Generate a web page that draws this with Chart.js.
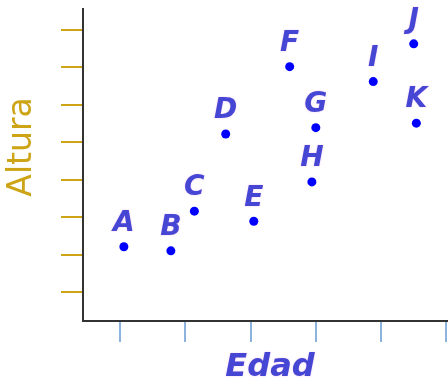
<!DOCTYPE html>
<html>
<head>
<meta charset="utf-8">
<script src="https://cdn.jsdelivr.net/npm/chart.js@4/dist/chart.umd.min.js"></script>
<style>
  html, body { margin: 0; padding: 0; background: #fff; }
  #wrap { width: 448px; height: 387px; }
</style>
</head>
<body>
<div id="wrap"><canvas id="chart"></canvas></div>
<script>
// points A..K: edad (x) vs altura (y), in tick units
const names = ['A', 'B', 'C', 'D', 'E', 'F', 'G', 'H', 'I', 'J', 'K'];
const edad = [1.06, 1.78, 2.14, 2.62, 3.05, 3.60, 4.00, 3.94, 4.88, 5.50, 5.54];
const altura = [2.21, 2.10, 3.16, 5.22, 2.89, 7.02, 5.39, 3.94, 6.62, 7.63, 5.51];
const xTicks = [1, 2, 3, 4, 5, 6];
const yTicks = [1, 2, 3, 4, 5, 6, 7, 8];

const pointColor = '#0000ff';
const letterColor = '#4646d4';
const gold = '#cca415';
const axisColor = '#333';

// letters above each point, plus the two axis captions
const pointLetters = {
  id: 'pointLetters',
  afterDatasetsDraw(chart) {
    const ctx = chart.ctx;
    const meta = chart.getDatasetMeta(0);
    ctx.save();
    ctx.font = 'italic bold 28px "DejaVu Sans", Verdana, sans-serif';
    ctx.textAlign = 'center';
    ctx.textBaseline = 'middle';
    ctx.fillStyle = letterColor;
    ctx.shadowColor = 'rgba(220, 80, 220, 0.35)';
    ctx.shadowBlur = 2;
    meta.data.forEach((pt, i) => {
      ctx.fillText(names[i], pt.x, pt.y - 23);
    });
    ctx.restore();
  },
  afterDraw(chart) {
    const ctx = chart.ctx;
    ctx.save();
    ctx.textAlign = 'center';
    ctx.textBaseline = 'middle';
    ctx.font = 'italic bold 32px "DejaVu Sans", Verdana, sans-serif';
    ctx.fillStyle = letterColor;
    ctx.shadowColor = 'rgba(220, 80, 220, 0.35)';
    ctx.shadowBlur = 2;
    ctx.fillText('Edad', 270, 368);
    ctx.shadowColor = 'transparent';
    ctx.translate(22, 147);
    ctx.rotate(-Math.PI / 2);
    ctx.font = '33px "DejaVu Sans", Verdana, sans-serif';
    ctx.fillStyle = gold;
    ctx.fillText('Altura', 0, 0);
    ctx.restore();
  }
};

new Chart(document.getElementById('chart'), {
  type: 'scatter',
  data: {
    datasets: [{
      data: edad.map((x, i) => ({ x: x, y: altura[i] })),
      backgroundColor: pointColor,
      borderColor: pointColor,
      pointRadius: 4.5,
      pointBorderWidth: 0
    }]
  },
  options: {
    responsive: true,
    maintainAspectRatio: false,
    animation: false,
    // no extra room for point radius: the x axis runs to the canvas edge
    layout: { autoPadding: false, padding: { left: 61, top: 9, right: 0, bottom: 45 } },
    plugins: {
      legend: { display: false },
      tooltip: { enabled: false }
    },
    scales: {
      x: {
        type: 'linear',
        min: 0.434,
        max: 6.025,
        afterBuildTicks: s => { s.ticks = xTicks.map(v => ({ value: v })); },
        ticks: { display: false },
        grid: {
          drawOnChartArea: false,
          drawTicks: true,
          tickLength: 21,
          color: '#8cb2de',
          lineWidth: 2
        },
        border: { display: true, color: axisColor, width: 2 }
      },
      y: {
        type: 'linear',
        min: 0.225,
        max: 8.56,
        afterBuildTicks: s => { s.ticks = yTicks.map(v => ({ value: v })); },
        ticks: { display: false },
        grid: {
          drawOnChartArea: false,
          drawTicks: true,
          tickLength: 22,
          color: gold,
          lineWidth: 2
        },
        border: { display: true, color: axisColor, width: 2 }
      }
    }
  },
  plugins: [pointLetters]
});
</script>
</body>
</html>
